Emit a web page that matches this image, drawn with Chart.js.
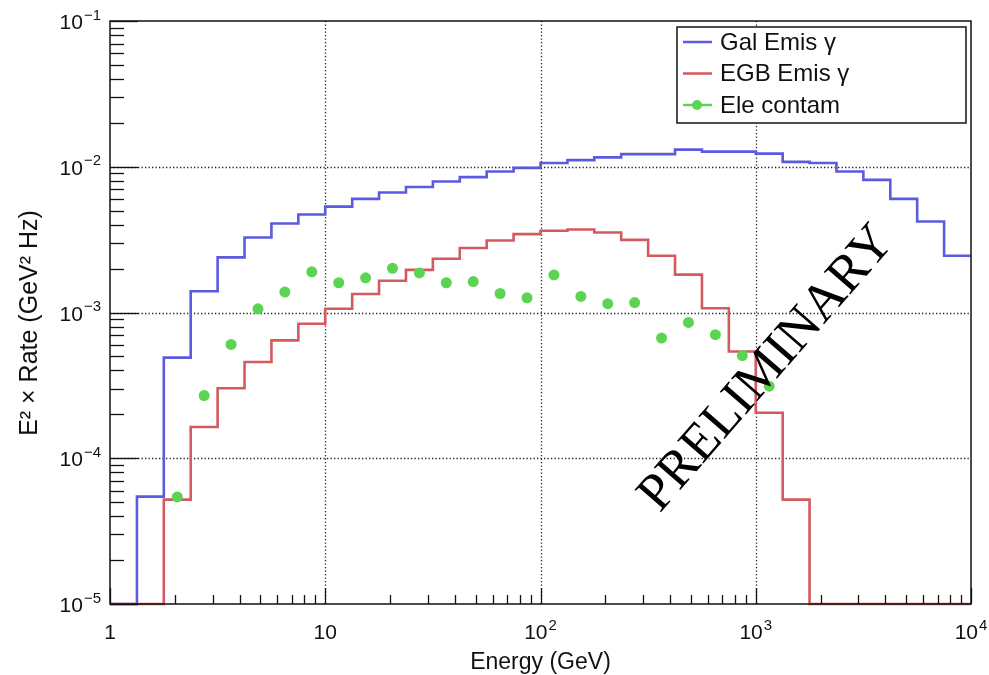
<!DOCTYPE html>
<html>
<head>
<meta charset="utf-8">
<script src="https://cdn.jsdelivr.net/npm/chart.js@4.4.1/dist/chart.umd.min.js"></script>
<style>
    html, body { margin: 0; padding: 0; background: #fff; }
    #wrap { width: 989px; height: 675px; position: relative; }
</style>
</head>
<body>
<div id="wrap"><canvas id="chart-1"></canvas></div>
<script>

// bin edges (GeV), 8 bins per decade
const energyEdges = [
    1, 1.334, 1.778, 2.371, 3.162, 4.217, 5.623, 7.499,
    10, 13.34, 17.78, 23.71, 31.62, 42.17, 56.23, 74.99,
    100, 133.4, 177.8, 237.1, 316.2, 421.7, 562.3, 749.9,
    1000, 1334, 1778, 2371, 3162, 4217, 5623, 7499, 10000
]

// E^2 x rate per bin (0 = empty bin)
const galEmis = [
    0, 5.45e-5, 4.9e-4, 1.40e-3, 2.39e-3, 3.27e-3, 4.08e-3, 4.70e-3,
    5.33e-3, 6.02e-3, 6.65e-3, 7.27e-3, 7.92e-3, 8.49e-3, 9.27e-3, 9.82e-3,
    1.06e-2, 1.11e-2, 1.16e-2, 1.22e-2, 1.22e-2, 1.31e-2, 1.27e-2, 1.27e-2,
    1.23e-2, 1.08e-2, 1.06e-2, 9.27e-3, 8.13e-3, 6.02e-3, 4.21e-3, 2.45e-3
]
const egbEmis = [
    0, 0, 5.2e-5, 1.64e-4, 3.02e-4, 4.58e-4, 6.44e-4, 8.38e-4,
    1.06e-3, 1.34e-3, 1.65e-3, 1.96e-3, 2.34e-3, 2.77e-3, 3.12e-3, 3.45e-3,
    3.64e-3, 3.71e-3, 3.54e-3, 3.15e-3, 2.45e-3, 1.82e-3, 1.07e-3, 5.4e-4,
    2.05e-4, 5.2e-5, 0, 0, 0, 0, 0, 0
]
const eleContam = [
    null, null, 5.43e-5, 2.69e-4, 6.04e-4, 1.06e-3, 1.38e-3, 1.90e-3,
    1.60e-3, 1.73e-3, 2.01e-3, 1.87e-3, 1.60e-3, 1.63e-3, 1.35e-3, 1.26e-3,
    1.81e-3, 1.29e-3, 1.15e-3, 1.17e-3, 6.68e-4, 8.55e-4, 7.05e-4, 5.06e-4,
    3.12e-4, null, null, null, null, null, null, null
]

const seriesNames = ['Gal Emis \u03b3', 'EGB Emis \u03b3', 'Ele contam']
const xDecades = [1, 10, 100, 1000, 10000]
const yDecades = [1e-5, 1e-4, 1e-3, 1e-2, 1e-1]

const xMin = 1, xMax = 10000
const yMin = 1e-5, yMax = 0.1

const blue = '#5b5be0'
const red = '#d35b60'
const green = '#5bd551'

const sans = '"Liberation Sans", Arial, sans-serif'

// histogram -> stepped points, empty bins drawn on the frame bottom (ROOT style)
function histPoints(values) {
    const pts = values.map((v, i) => ({ x: energyEdges[i], y: v > 0 ? v : yMin }))
    const last = values[values.length - 1]
    pts.push({ x: energyEdges[values.length], y: last > 0 ? last : yMin })
    return pts
}

function markerPoints(values) {
    const pts = []
    values.forEach((v, i) => {
        if (v === null) return
        pts.push({ x: Math.sqrt(energyEdges[i] * energyEdges[i + 1]), y: v })
    })
    return pts
}

// "10" with exponent
function drawPow(ctx, exp, x, y, align, size) {
    ctx.font = size + 'px ' + sans
    const wb = ctx.measureText('10').width
    let ws = 0
    if (exp !== null) {
        ctx.font = Math.round(size * 0.7) + 'px ' + sans
        ws = ctx.measureText(exp).width + 1
    }
    let x0 = x
    if (align === 'center') x0 = x - (wb + ws) / 2
    if (align === 'right') x0 = x - (wb + ws)
    ctx.textAlign = 'left'
    ctx.textBaseline = 'alphabetic'
    ctx.font = size + 'px ' + sans
    ctx.fillText('10', x0, y)
    if (exp !== null) {
        ctx.font = Math.round(size * 0.7) + 'px ' + sans
        ctx.fillText(exp, x0 + wb + 1, y - size * 0.45)
    }
}

const rootFrame = {
    id: 'rootFrame',
    beforeDatasetsDraw(chart) {
        const { ctx, chartArea: a, scales } = chart
        ctx.save()
        ctx.strokeStyle = '#222'
        ctx.lineWidth = 1.3
        ctx.setLineDash([1.3, 2.2])
        xDecades.slice(1, -1).forEach(v => {
            const px = Math.round(scales.x.getPixelForValue(v)) + 0.5
            ctx.beginPath(); ctx.moveTo(px, a.top); ctx.lineTo(px, a.bottom); ctx.stroke()
        })
        yDecades.slice(1, -1).forEach(v => {
            const py = Math.round(scales.y.getPixelForValue(v)) + 0.5
            ctx.beginPath(); ctx.moveTo(a.left, py); ctx.lineTo(a.right, py); ctx.stroke()
        })
        ctx.restore()
    },
    afterDatasetsDraw(chart) {
        const { ctx, chartArea: a, scales } = chart
        ctx.save()

        // ticks
        ctx.strokeStyle = '#111'
        ctx.lineWidth = 1.3
        for (let d = 0; d < xDecades.length; d++) {
            for (let m = 1; m <= 9; m++) {
                const v = xDecades[d] * m
                if (v > xMax) break
                const px = Math.round(scales.x.getPixelForValue(v)) + 0.5
                const len = m === 1 ? 16 : 9
                ctx.beginPath(); ctx.moveTo(px, a.bottom); ctx.lineTo(px, a.bottom - len); ctx.stroke()
            }
        }
        for (let d = 0; d < yDecades.length; d++) {
            for (let m = 1; m <= 9; m++) {
                const v = yDecades[d] * m
                if (v > yMax * 1.0001) break
                const py = Math.round(scales.y.getPixelForValue(v)) + 0.5
                const len = m === 1 ? 28 : 14
                ctx.beginPath(); ctx.moveTo(a.left, py); ctx.lineTo(a.left + len, py); ctx.stroke()
            }
        }

        // frame
        ctx.lineWidth = 1.5
        ctx.strokeStyle = '#111'
        ctx.strokeRect(a.left, a.top, a.right - a.left, a.bottom - a.top)

        // tick labels
        ctx.fillStyle = '#111'
        xDecades.forEach((v, i) => {
            const px = scales.x.getPixelForValue(v)
            const by = a.bottom + 35
            if (i === 0) {
                ctx.font = '21px ' + sans; ctx.textAlign = 'center'; ctx.textBaseline = 'alphabetic'
                ctx.fillText('1', px, by)
            } else if (i === 1) {
                ctx.font = '21px ' + sans; ctx.textAlign = 'center'; ctx.textBaseline = 'alphabetic'
                ctx.fillText('10', px, by)
            } else {
                drawPow(ctx, String(i), px, by, 'center', 21)
            }
        })
        yDecades.forEach(v => {
            const py = scales.y.getPixelForValue(v)
            const e = Math.round(Math.log10(v))
            drawPow(ctx, '\u2212' + Math.abs(e), 101, py + 8, 'right', 21)
        })

        // axis titles
        ctx.font = '23px ' + sans
        ctx.textAlign = 'center'
        ctx.textBaseline = 'middle'
        ctx.fillText('Energy (GeV)', (a.left + a.right) / 2, 663)
        ctx.save()
        ctx.translate(30, 323)
        ctx.rotate(-Math.PI / 2)
        ctx.font = '25px ' + sans
        ctx.fillText('E\u00b2 \u00d7 Rate (GeV\u00b2 Hz)', 0, 0)
        ctx.restore()

        // legend
        const lx = 677, ly = 27, lw = 289, lh = 96
        ctx.fillStyle = '#fff'
        ctx.fillRect(lx, ly, lw, lh)
        ctx.lineWidth = 1.6
        ctx.strokeStyle = '#222'
        ctx.strokeRect(lx, ly, lw, lh)
        const colors = [blue, red, green]
        seriesNames.forEach((name, i) => {
            const yy = ly + 15 + i * 31.5
            ctx.strokeStyle = colors[i]
            ctx.lineWidth = 2.5
            ctx.beginPath(); ctx.moveTo(lx + 6, yy); ctx.lineTo(lx + 35, yy); ctx.stroke()
            if (i === 2) {
                ctx.fillStyle = green
                ctx.beginPath(); ctx.arc(lx + 20, yy, 5, 0, Math.PI * 2); ctx.fill()
            }
            ctx.fillStyle = '#111'
            ctx.font = '24px ' + sans
            ctx.textAlign = 'left'
            ctx.textBaseline = 'middle'
            ctx.fillText(name, lx + 43, yy + 1)
        })

        // watermark
        ctx.save()
        ctx.translate(767, 369)
        ctx.rotate(-49 * Math.PI / 180)
        ctx.fillStyle = '#000'
        ctx.font = '53px "Liberation Serif", "Times New Roman", serif'
        ctx.textAlign = 'center'
        ctx.textBaseline = 'middle'
        ctx.fillText('PRELIMINARY', 0, 0)
        ctx.restore()

        ctx.restore()
    }
}

const ctx1 = document.getElementById('chart-1')

new Chart(ctx1, {
    type: 'line',
    data: {
        datasets: [
            {
                label: seriesNames[0],
                data: histPoints(galEmis),
                borderColor: blue,
                borderWidth: 2.6,
                stepped: 'before',
                pointRadius: 0,
                fill: false,
                clip: false,
                order: 2
            },
            {
                label: seriesNames[1],
                data: histPoints(egbEmis),
                borderColor: red,
                borderWidth: 2.6,
                stepped: 'before',
                pointRadius: 0,
                fill: false,
                clip: false,
                order: 1
            },
            {
                label: seriesNames[2],
                data: markerPoints(eleContam),
                showLine: false,
                pointStyle: 'circle',
                pointRadius: 5.5,
                backgroundColor: green,
                borderColor: green,
                borderWidth: 0,
                order: 0
            }
        ]
    },
    options: {
        responsive: true,
        maintainAspectRatio: false,
        animation: false,
        devicePixelRatio: 1,
        layout: {
            padding: { left: 110, right: 18, top: 21, bottom: 71 }
        },
        plugins: {
            legend: { display: false },
            tooltip: { enabled: false }
        },
        scales: {
            x: { type: 'logarithmic', min: xMin, max: xMax, display: false },
            y: { type: 'logarithmic', min: yMin, max: yMax, display: false }
        }
    },
    plugins: [rootFrame]
});
</script>
</body>
</html>
